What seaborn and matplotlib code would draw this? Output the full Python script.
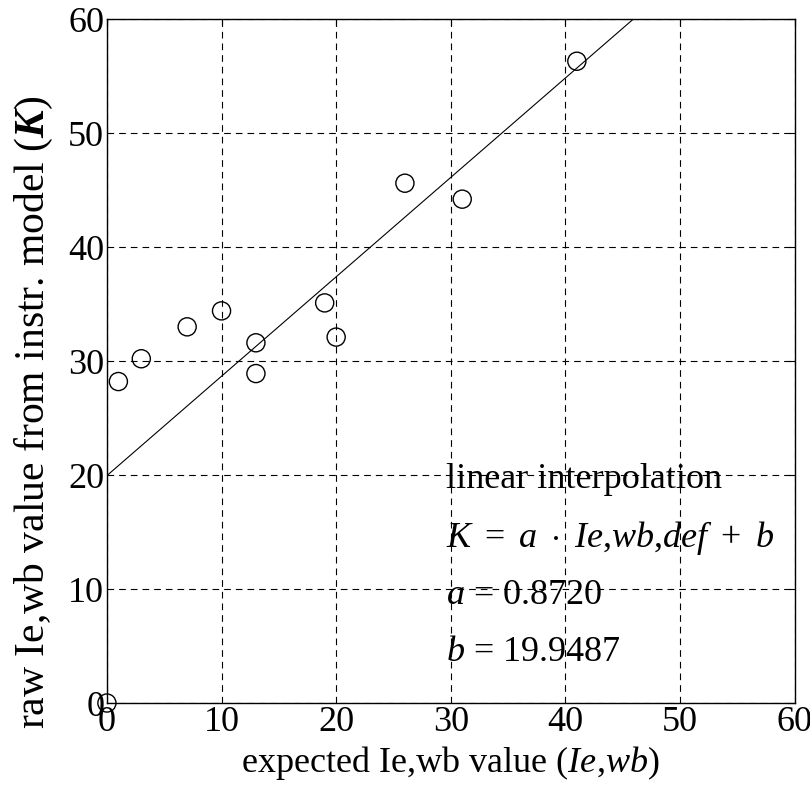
import matplotlib
matplotlib.use("Agg")
import matplotlib.pyplot as plt
import numpy as np
import pandas as pd
import seaborn as sns

# measured points
expected = [0, 1, 3, 7, 10, 13, 13, 19, 20, 26, 31, 41]
raw = [0.0, 28.2, 30.2, 33.0, 34.4, 31.6, 28.9, 35.1, 32.1, 45.6, 44.2, 56.3]

# linear fit parameters
fit_a = 0.8720
fit_b = 19.9487
fit_x = [0, 60]

ticks = [0, 10, 20, 30, 40, 50, 60]

sns.set_style("white")
plt.rcParams["font.family"] = ["Liberation Serif", "DejaVu Serif"]
plt.rcParams["mathtext.fontset"] = "custom"
plt.rcParams["mathtext.rm"] = "Liberation Serif"
plt.rcParams["mathtext.it"] = "Liberation Serif:italic"
plt.rcParams["mathtext.bf"] = "Liberation Serif:bold:italic"
plt.rcParams["text.color"] = "black"
plt.rcParams["axes.labelcolor"] = "black"
plt.rcParams["xtick.color"] = "black"
plt.rcParams["ytick.color"] = "black"

df = pd.DataFrame({"x": expected, "y": raw})
line_df = pd.DataFrame({"x": fit_x, "y": [fit_a * v + fit_b for v in fit_x]})

fig = plt.figure(figsize=(8.1, 7.94), dpi=100)
ax = fig.add_axes([0.132, 0.1146, 0.849, 0.8614])

sns.lineplot(data=line_df, x="x", y="y", ax=ax, color="black", linewidth=0.8)
sns.scatterplot(data=df, x="x", y="y", ax=ax, s=170, facecolor="none",
                edgecolor="black", linewidth=1.0, zorder=3, clip_on=False)

ax.set_xlim(0, 60)
ax.set_ylim(0, 60)
ax.set_xticks(ticks)
ax.set_yticks(ticks)
ax.grid(True, color="black", linestyle=(0, (6, 4.5)), linewidth=0.8)
ax.tick_params(axis="both", direction="in", length=5, width=0.8,
               labelsize=26, pad=2, top=True, right=True)
for sp in ax.spines.values():
    sp.set_color("black")
    sp.set_linewidth(1.0)

ax.set_xlabel(r"expected Ie,wb value ($Ie{,}wb$)", fontsize=26, labelpad=4)
ax.set_ylabel(r"raw Ie,wb value from instr. model ($\mathbf{K}$)", fontsize=30)
ax.yaxis.set_label_coords(-0.075, 0.425)

tx = 29.6
ax.text(tx, 19.6, "linear interpolation", fontsize=26, va="center", ha="left")
ax.text(tx, 14.5, r"$K\ =\ a\ \cdot\ Ie{,}wb{,}def\ +\ b$", fontsize=26, va="center", ha="left")
ax.text(tx, 9.4, r"$a$ = 0.8720", fontsize=26, va="center", ha="left")
ax.text(tx, 4.4, r"$b$ = 19.9487", fontsize=26, va="center", ha="left")

fig.savefig("out.png", dpi=100)
